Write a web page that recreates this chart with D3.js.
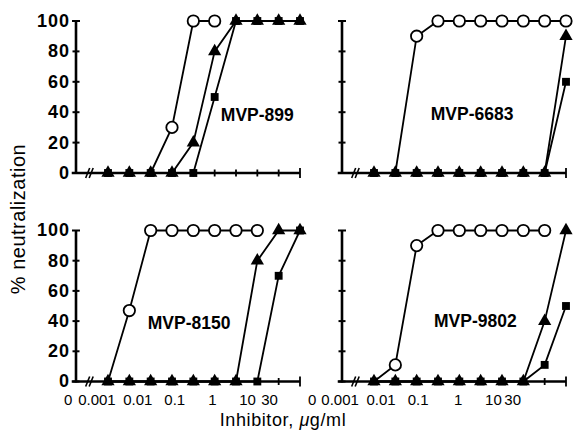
<!DOCTYPE html>
<html>
<head>
<meta charset="utf-8">
<script src="https://cdn.jsdelivr.net/npm/d3@7"></script>
<style>
body { margin: 0; background: #fff; }
svg { display: block; }
text { font-family: "Liberation Sans", Arial, Helvetica, sans-serif; fill: #000; }
</style>
</head>
<body>
<svg width="585" height="444"></svg>
<script>
// concentration steps (index along the x axis, 0 = the "0" dose at the axis break)
var xIndex = [1, 2, 3, 4, 5, 6, 7, 8, 9, 10];
var yTicks = [0, 20, 40, 60, 80, 100];
var xTickLabels = ["0", "0.001", "0.01", "0.1", "1", "10", "30"];
// where the dose labels sit, in step units, under the left and right columns
var xTickPosLeft = [-0.87, 0.48, 2.4, 4.13, 5.9, 7.54, 8.57];
var xTickPosRight = [-1.9, -0.59, 1.33, 3.07, 4.95, 6.6, 7.5];

// % neutralization, open circles / filled triangles / filled squares
// (null = point not shown, hidden behind another series)
var circle899 = [null, null, 0, 30, 100, 100, null, null, null, null];
var triangle899 = [0, 0, 0, 0, 20, 80, 100, 100, 100, 100];
var square899 = [0, 0, 0, 0, 0, 50, 100, 100, 100, 100];

var circle6683 = [null, 0, 90, 100, 100, 100, 100, 100, 100, 100];
var triangle6683 = [0, 0, 0, 0, 0, 0, 0, 0, 0, 90];
var square6683 = [0, 0, 0, 0, 0, 0, 0, 0, 0, 60];

var circle8150 = [0, 47, 100, 100, 100, 100, 100, 100, null, null];
var triangle8150 = [0, 0, 0, 0, 0, 0, 0, 80, 100, 100];
var square8150 = [0, 0, 0, 0, 0, 0, 0, 0, 70, 100];

var circle9802 = [0, 11, 90, 100, 100, 100, 100, 100, 100, null];
var triangle9802 = [0, 0, 0, 0, 0, 0, 0, 0, 40, 100];
var square9802 = [0, 0, 0, 0, 0, 0, 0, 0, 11, 50];

var panels = [
  {name: "MVP-899", col: 0, row: 0, circle: circle899, triangle: triangle899, square: square899, lx: 8.0, ly: 34},
  {name: "MVP-6683", col: 1, row: 0, circle: circle6683, triangle: triangle6683, square: square6683, lx: 5.6, ly: 35},
  {name: "MVP-8150", col: 0, row: 1, circle: circle8150, triangle: triangle8150, square: square8150, lx: 4.8, ly: 35},
  {name: "MVP-9802", col: 1, row: 1, circle: circle9802, triangle: triangle9802, square: square9802, lx: 5.75, ly: 36}
];

var svg = d3.select("svg");
var colX = [76, 342], colW = 224;
var rowY0 = [173, 381.5], rowY100 = [21, 230.5];

var triSym = d3.symbol().type(d3.symbolTriangle).size(76);
var sqSym = d3.symbol().type(d3.symbolSquare).size(62);

function has(d) { return d != null; }

panels.forEach(function(p) {
  var x = d3.scaleLinear().domain([-0.5, 10]).range([colX[p.col], colX[p.col] + colW]);
  var y = d3.scaleLinear().domain([0, 100]).range([rowY0[p.row], rowY100[p.row]]);
  var g = svg.append("g");

  // axes
  g.append("line")
    .attr("x1", x(-0.7)).attr("x2", x(10))
    .attr("y1", y(0)).attr("y2", y(0))
    .attr("stroke", "#000").attr("stroke-width", 2.6);
  g.append("line")
    .attr("x1", x(-0.5)).attr("x2", x(-0.5))
    .attr("y1", y(0) + 1).attr("y2", y(100))
    .attr("stroke", "#000").attr("stroke-width", 2.6);

  g.selectAll(".ytick").data(yTicks).enter().append("line")
    .attr("x1", function(d) { return x(-0.5) - (d == 100 ? 4 : 3.5); })
    .attr("x2", function(d) { return x(-0.5) + (d == 100 ? 4 : 3.5); })
    .attr("y1", function(d) { return y(d); })
    .attr("y2", function(d) { return y(d); })
    .attr("stroke", "#000").attr("stroke-width", 2);

  g.selectAll(".xtick").data(xIndex).enter().append("line")
    .attr("x1", function(d) { return x(d); })
    .attr("x2", function(d) { return x(d); })
    .attr("y1", function(d) { return y(0) - (d == 10 ? 5 : 3.5); })
    .attr("y2", function(d) { return y(0) + (d == 10 ? 5 : 3.5); })
    .attr("stroke", "#000").attr("stroke-width", 1.8);

  // axis break
  [0, 1].forEach(function(k) {
    g.append("line")
      .attr("x1", x(0) + k * 3.5 - 1).attr("x2", x(0) + k * 3.5 + 3)
      .attr("y1", y(0) + 5).attr("y2", y(0) - 5)
      .attr("stroke", "#000").attr("stroke-width", 1.6);
  });

  if (p.col == 0) {
    g.selectAll(".ylab").data(yTicks).enter().append("text")
      .attr("x", x(-0.5) - 6)
      .attr("y", function(d) { return y(d); })
      .attr("dy", "0.33em")
      .attr("text-anchor", "end")
      .attr("font-size", 18).attr("font-weight", "bold")
      .attr("letter-spacing", 1)
      .text(function(d) { return d; });
  }

  // lines + markers
  var line = d3.line()
    .defined(has)
    .x(function(d, i) { return x(xIndex[i]); })
    .y(function(d) { return y(d); });

  [p.circle, p.square, p.triangle].forEach(function(s) {
    g.append("path").attr("d", line(s))
      .attr("fill", "none").attr("stroke", "#000").attr("stroke-width", 1.8);
  });

  // open circles lying on the baseline are covered by the filled symbols
  var circ = p.circle.map(function(v, i) { return {x: xIndex[i], v: v}; })
    .filter(function(d) { return has(d.v) && d.v > 0; });
  g.selectAll(".c").data(circ).enter().append("circle")
    .attr("cx", function(d) { return x(d.x); })
    .attr("cy", function(d) { return y(d.v); })
    .attr("r", 5.7)
    .attr("fill", "#fff").attr("stroke", "#000").attr("stroke-width", 1.8);

  g.selectAll(".s").data(p.square).enter().append("path")
    .attr("d", sqSym)
    .attr("transform", function(d, i) { return "translate(" + x(xIndex[i]) + "," + y(d) + ")"; })
    .attr("fill", "#000");

  g.selectAll(".t").data(p.triangle).enter().append("path")
    .attr("d", triSym)
    .attr("transform", function(d, i) { return "translate(" + x(xIndex[i]) + "," + y(d) + ")"; })
    .attr("fill", "#000");

  g.append("text")
    .attr("x", x(p.lx)).attr("y", y(p.ly))
    .attr("text-anchor", "middle")
    .attr("font-size", 17.5).attr("font-weight", "bold")
    .text(p.name);

  if (p.row == 1) {
    var pos = p.col == 0 ? xTickPosLeft : xTickPosRight;
    g.selectAll(".xlab").data(xTickLabels).enter().append("text")
      .attr("x", function(d, i) { return x(pos[i]); })
      .attr("y", 405)
      .attr("text-anchor", "middle")
      .attr("font-size", 15)
      .text(function(d) { return d; });
  }
});

svg.append("text")
  .attr("transform", "translate(25,219) rotate(-90)")
  .attr("text-anchor", "middle")
  .attr("font-size", 20)
  .attr("letter-spacing", 0.5)
  .text("% neutralization");

var xt = svg.append("text")
  .attr("x", 283).attr("y", 425.5)
  .attr("text-anchor", "middle")
  .attr("font-size", 18)
  .attr("letter-spacing", 0.6);
xt.append("tspan").text("Inhibitor, ");
xt.append("tspan").attr("font-style", "italic").text("\u03bc");
xt.append("tspan").text("g/ml");
</script>
</body>
</html>
